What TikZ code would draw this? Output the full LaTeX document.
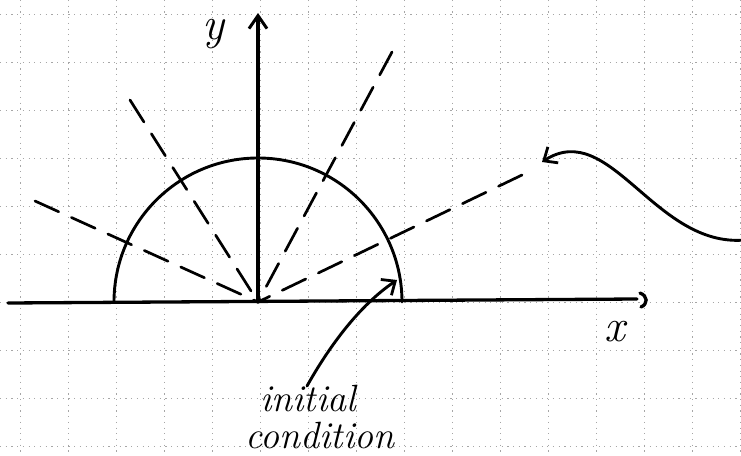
\documentclass[tikz,border=0pt]{standalone}
\usetikzlibrary{arrows.meta}
\begin{document}
\begin{tikzpicture}[x=1pt,y=-1pt,
  gridline/.style={black!35,line width=0.7pt,dash pattern=on 1.2pt off 4.5pt},
  axisline/.style={black,line width=3.3pt,line cap=round},
  curveline/.style={black,line width=2.9pt,line cap=round},
  rayline/.style={black,line width=2.7pt,dash pattern=on 26pt off 14pt,line cap=round},
  barb/.style={-{Straight Barb[length=11pt,width=19pt,line width=2.8pt]}},
  hand/.style={font=\fontsize{38}{38}\selectfont\itshape,inner sep=0pt}]
\useasboundingbox (0,0) rectangle (741,455);
\fill[white] (0,0) rectangle (741,455);
% grid
\foreach \gx in {20,68,...,740} \draw[gridline] (\gx,0) -- (\gx,455);
\foreach \gy in {14,62,...,446} \draw[gridline] (0,\gy) -- (741,\gy);
% key points
\coordinate (O) at (258,302);
\coordinate (xL) at (8,303);
\coordinate (xR) at (637,299);
\coordinate (yT) at (258,13);
\coordinate (rUL) at (130,100);
\coordinate (rUR) at (392,52);
\coordinate (rL) at (35,201);
\coordinate (rR) at (522,175);
% semicircle
\draw[curveline] (O) ++(-144,0) arc[start angle=180,end angle=360,radius=144];
% dashed rays
\draw[rayline] (rUL) -- (O);
\draw[rayline] (rUR) -- (O);
\draw[rayline] (rL) -- (O);
\draw[rayline] (rR) -- (O);
% axes
\draw[axisline] (xL) -- (xR);
\draw[axisline] (640,293) .. controls (648,296) and (648,304) .. (641,307);
\draw[axisline,-{Straight Barb[length=13pt,width=18pt,line width=3pt]}] (O) -- (yT);
\node[hand,font=\fontsize{46}{46}\selectfont\itshape] (ylab) at (213,34) {y};
\node[hand,font=\fontsize{46}{46}\selectfont\itshape] (xlab) at (615,332) {x};
% label and arrows
\node[hand,anchor=base] (lab1) at (308,411) {initial};
\node[hand,anchor=base] (lab2) at (320,448) {condition};
\coordinate (a1s) at (307,386);
\coordinate (a1e) at (397,280);
\draw[curveline,barb] (a1s) .. controls (330,345) and (360,305) .. (a1e);
\coordinate (a2s) at (745,240);
\coordinate (a2e) at (542,162);
\draw[curveline,barb] (a2s) .. controls (655,248) and (610,118) .. (a2e);
\end{tikzpicture}
\end{document}
